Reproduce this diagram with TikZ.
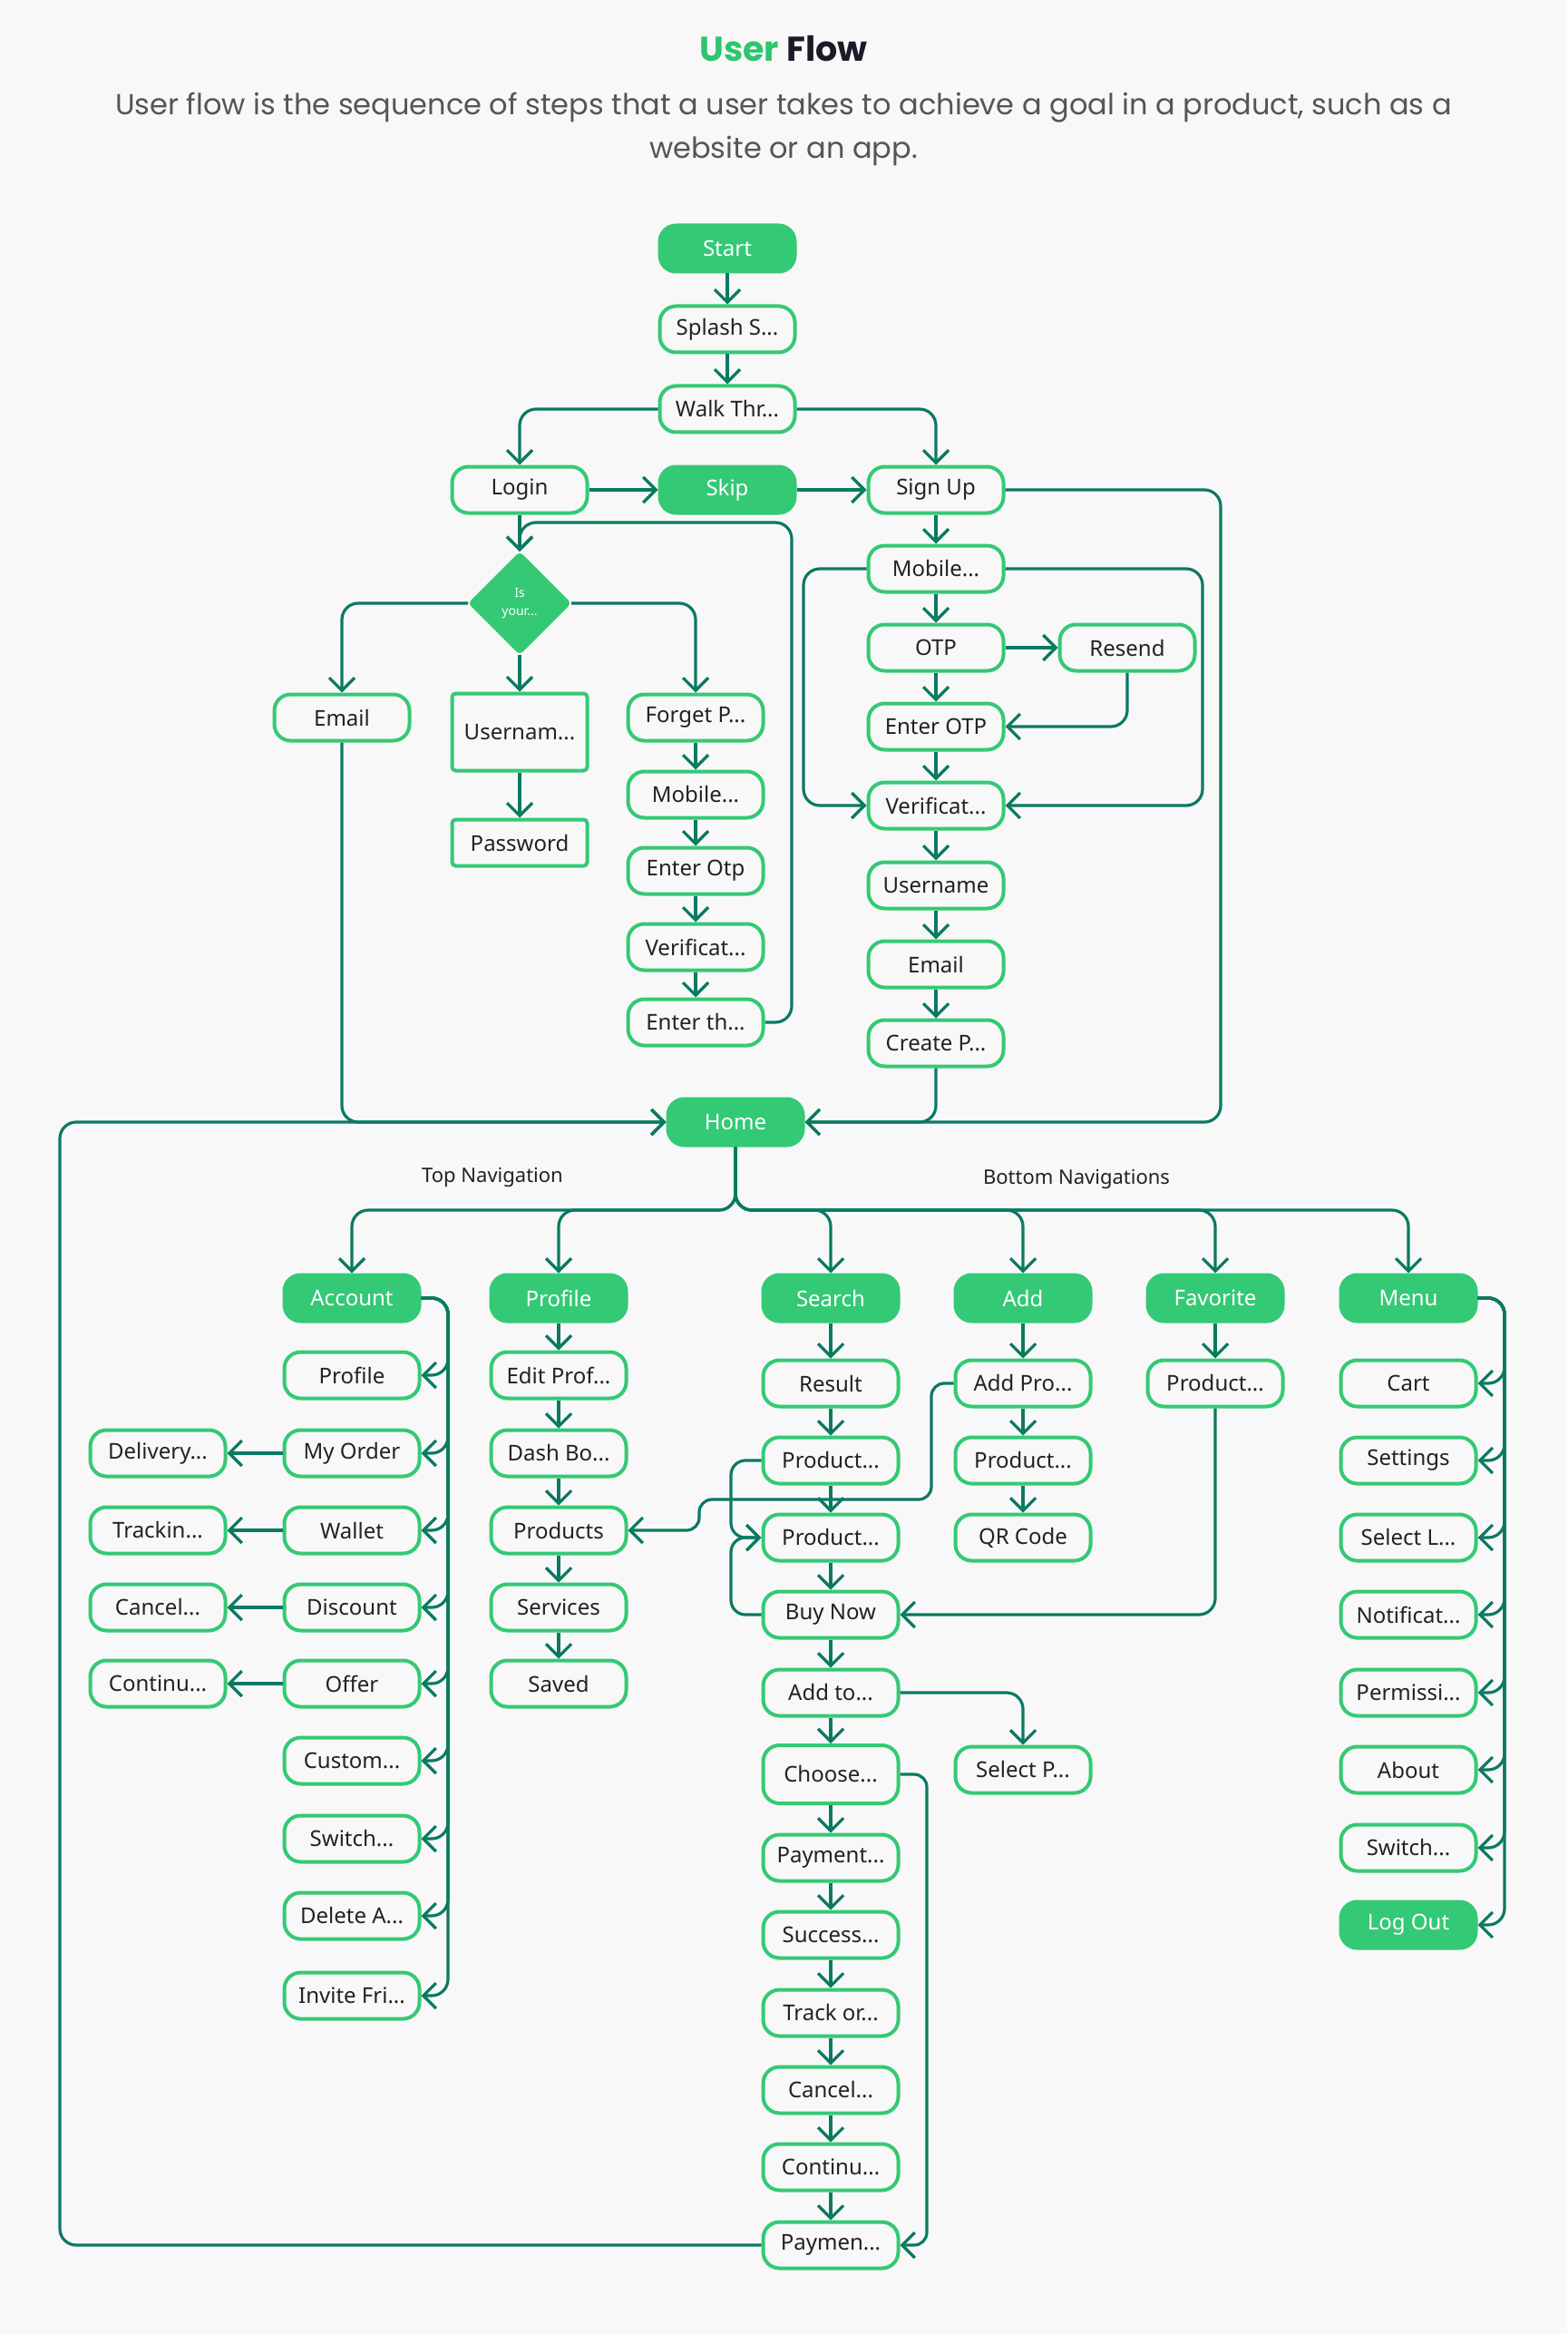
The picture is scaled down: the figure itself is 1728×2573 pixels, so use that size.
\documentclass[tikz,border=0pt]{standalone}
\usepackage{fontspec}
\setmainfont{Noto Sans}
\newfontfamily\poppins{Poppins}
\usetikzlibrary{arrows.meta,shapes.geometric}
\definecolor{bgc}{HTML}{F8F8F8}
\definecolor{grn}{HTML}{34C975}
\definecolor{lnk}{HTML}{0A7A62}
\definecolor{txt}{HTML}{222222}
\definecolor{ttlg}{HTML}{2CC66F}
\definecolor{ttld}{HTML}{1B1B28}
\definecolor{subg}{HTML}{555555}
\begin{document}
\begin{tikzpicture}[x=0.5pt,y=-0.5pt,
  box/.style={draw=grn, line width=2pt, rounded corners=9pt, fill=bgc,
    minimum width=74.5pt, minimum height=25.5pt, inner sep=0pt,
    text=txt, font=\fontsize{12}{14}\selectfont},
  fbox/.style={box, fill=grn, text=white},
  rbox/.style={box, rounded corners=2pt},
  dia/.style={diamond, aspect=1, fill=grn, draw=grn, line width=1pt,
    minimum width=56pt, minimum height=56pt, inner sep=0pt, rounded corners=2pt,
    text=white, align=center, font=\fontsize{7}{10}\selectfont},
  lbl/.style={text=txt, font=\fontsize{11}{13}\selectfont, inner sep=0pt},
  arr/.style={draw=lnk, line width=1.6pt, rounded corners=9pt, line join=round,
    -{Straight Barb[length=7pt,width=14pt]}},
]
\fill[bgc] (0,0) rectangle (1728,2573);
\useasboundingbox (0,0) rectangle (1728,2573);

% title
\node (title) at (864,54) {\poppins\bfseries\fontsize{19}{22}\selectfont\textcolor{ttlg}{User} \textcolor{ttld}{Flow}};
\node[align=center, text=subg, font=\poppins\fontsize{16}{24}\selectfont] (sub) at (864,142)
  {User flow is the sequence of steps that a user takes to achieve a goal in a product, such as a\\ website or an app.};

% top part
\node[fbox] (start) at (802,274) {Start};
\node[box] (splash) at (802,363) {Splash S...};
\node[box] (walk) at (802,451) {Walk Thr...};
\node[box] (login) at (573,540) {Login};
\node[fbox] (skip) at (802,540) {Skip};
\node[box] (signup) at (1032,540) {Sign Up};
\node[dia] (isyour) at (573,665) {Is\\your...};
\node[box] (email1) at (377,791) {Email};
\node[rbox, minimum height=42.5pt] (usern) at (573,807) {Usernam...};
\node[rbox] (pass) at (573,929) {Password};
\node[box] (forget) at (767,791) {Forget P...};
\node[box] (mob1) at (767,876) {Mobile...};
\node[box] (eotp1) at (767,960) {Enter Otp};
\node[box] (ver1) at (767,1044) {Verificat...};
\node[box] (enterth) at (767,1127) {Enter th...};

\node[box] (mob2) at (1032,627) {Mobile...};
\node[box] (otp) at (1032,714) {OTP};
\node[box] (resend) at (1243,714) {Resend};
\node[box] (eotp2) at (1032,801) {Enter OTP};
\node[box] (ver2) at (1032,888) {Verificat...};
\node[box] (uname) at (1032,976) {Username};
\node[box] (email2) at (1032,1063) {Email};
\node[box] (create) at (1032,1150) {Create P...};
\node[fbox] (home) at (811,1237) {Home};

\node[lbl] (topnav) at (543,1298) {Top Navigation};
\node[lbl] (botnav) at (1187,1300) {Bottom Navigations};

% row 1
\node[fbox] (acc) at (388,1431) {Account};
\node[fbox] (prof) at (616,1431) {Profile};
\node[fbox] (search) at (916,1431) {Search};
\node[fbox] (add) at (1128,1431) {Add};
\node[fbox] (fav) at (1340,1431) {Favorite};
\node[fbox] (menu) at (1553,1431) {Menu};

% account column
\node[box] (aprof) at (388,1516) {Profile};
\node[box] (myorder) at (388,1602) {My Order};
\node[box] (wallet) at (388,1687) {Wallet};
\node[box] (discount) at (388,1772) {Discount};
\node[box] (offer) at (388,1856) {Offer};
\node[box] (custom) at (388,1941) {Custom...};
\node[box] (switch1) at (388,2027) {Switch...};
\node[box] (delete) at (388,2112) {Delete A...};
\node[box] (invite) at (388,2200) {Invite Fri...};

\node[box] (delivery) at (174,1602) {Delivery...};
\node[box] (trackin) at (174,1687) {Trackin...};
\node[box] (cancel1) at (174,1772) {Cancel...};
\node[box] (continu1) at (174,1856) {Continu...};

% profile column
\node[box] (edit) at (616,1516) {Edit Prof...};
\node[box] (dash) at (616,1602) {Dash Bo...};
\node[box] (products) at (616,1687) {Products};
\node[box] (services) at (616,1772) {Services};
\node[box] (saved) at (616,1856) {Saved};

% search column
\node[box] (result) at (916,1525) {Result};
\node[box] (prod1) at (916,1610) {Product...};
\node[box] (prod2) at (916,1695) {Product...};
\node[box] (buynow) at (916,1780) {Buy Now};
\node[box] (addto) at (916,1866) {Add to...};
\node[box, minimum height=32pt] (choose) at (916,1956) {Choose...};
\node[box] (payment) at (916,2048) {Payment...};
\node[box] (success) at (916,2133) {Success...};
\node[box] (track) at (916,2219) {Track or...};
\node[box] (cancel2) at (916,2304) {Cancel...};
\node[box] (continu2) at (916,2389) {Continu...};
\node[box] (paymen) at (916,2475) {Paymen...};

% add column
\node[box] (addpro) at (1128,1525) {Add Pro...};
\node[box] (prod3) at (1128,1610) {Product...};
\node[box] (qr) at (1128,1695) {QR Code};
\node[box] (selectp) at (1128,1951) {Select P...};

% favorite
\node[box] (prod4) at (1340,1525) {Product...};

% menu column
\node[box] (cart) at (1553,1525) {Cart};
\node[box] (settings) at (1553,1610) {Settings};
\node[box] (selectl) at (1553,1695) {Select L...};
\node[box] (notif) at (1553,1780) {Notificat...};
\node[box] (permiss) at (1553,1866) {Permissi...};
\node[box] (about) at (1553,1951) {About};
\node[box] (switch2) at (1553,2037) {Switch...};
\node[fbox] (logout) at (1553,2122) {Log Out};

% ---------- connectors ----------
\draw[arr] (start) -- (splash);
\draw[arr] (splash) -- (walk);
\draw[arr] (walk.west) -| (login.north);
\draw[arr] (walk.east) -| (signup.north);
\draw[arr] (login) -- (skip);
\draw[arr] (skip) -- (signup);
\draw[arr] (signup.east) -- (1346,540) |- (home.east);
\draw[arr] (login) -- (isyour);
\draw[arr] (enterth.east) -- (873,1127) -- (873,576) -| (isyour.north);
\draw[arr] (isyour.west) -| (email1.north);
\draw[arr] (isyour) -- (usern);
\draw[arr] (isyour.east) -| (forget.north);
\draw[arr] (usern) -- (pass);
\draw[arr] (forget) -- (mob1);
\draw[arr] (mob1) -- (eotp1);
\draw[arr] (eotp1) -- (ver1);
\draw[arr] (ver1) -- (enterth);
\draw[arr] (email1.south) |- (home.west);
\draw[arr] (paymen.west) -- (66,2475) |- (home.west);

\draw[arr] (signup) -- (mob2);
\draw[arr] (mob2) -- (otp);
\draw[arr] (otp) -- (resend);
\draw[arr] (resend.south) |- (eotp2.east);
\draw[arr] (otp) -- (eotp2);
\draw[arr] (eotp2) -- (ver2);
\draw[arr] (mob2.west) -- (886,627) |- (ver2.west);
\draw[arr] (mob2.east) -- (1326,627) |- (ver2.east);
\draw[arr] (ver2) -- (uname);
\draw[arr] (uname) -- (email2);
\draw[arr] (email2) -- (create);
\draw[arr] (create.south) |- (home.east);

\foreach \n in {acc,prof,search,add,fav,menu}
  \draw[arr] (home.south) -- (811,1334) -| (\n.north);

\foreach \n in {aprof,myorder,wallet,discount,offer,custom,switch1,delete,invite}
  \draw[arr] (acc.east) -- (494,1431) |- (\n.east);
\draw[arr] (myorder) -- (delivery);
\draw[arr] (wallet) -- (trackin);
\draw[arr] (discount) -- (cancel1);
\draw[arr] (offer) -- (continu1);

\draw[arr] (prof) -- (edit);
\draw[arr] (edit) -- (dash);
\draw[arr] (dash) -- (products);
\draw[arr] (products) -- (services);
\draw[arr] (services) -- (saved);

\draw[arr] (search) -- (result);
\draw[arr] (result) -- (prod1);
\draw[arr] (prod1) -- (prod2);
\draw[arr] (prod2) -- (buynow);
\draw[arr] (buynow) -- (addto);
\draw[arr] (addto) -- (choose);
\draw[arr] (choose) -- (payment);
\draw[arr] (payment) -- (success);
\draw[arr] (success) -- (track);
\draw[arr] (track) -- (cancel2);
\draw[arr] (cancel2) -- (continu2);
\draw[arr] (continu2) -- (paymen);
\draw[arr, rounded corners=8pt] (prod1.west) -- (806,1610) |- (prod2.west);
\draw[arr, rounded corners=8pt] (buynow.west) -- (806,1780) |- (prod2.west);
\draw[arr, rounded corners=7pt] (addpro.west) -- (1027,1525) -- (1027,1653) -- (771,1653) -- (771,1687) -- (products.east);
\draw[arr] (addto.east) -| (selectp.north);
\draw[arr, rounded corners=7pt] (choose.east) -- (1022,1956) |- (paymen.east);

\draw[arr] (add) -- (addpro);
\draw[arr] (addpro) -- (prod3);
\draw[arr] (prod3) -- (qr);

\draw[arr] (fav) -- (prod4);
\draw[arr] (prod4.south) |- (buynow.east);

\foreach \n in {cart,settings,selectl,notif,permiss,about,switch2,logout}
  \draw[arr] (menu.east) -- (1659,1431) |- (\n.east);
\end{tikzpicture}
\end{document}
